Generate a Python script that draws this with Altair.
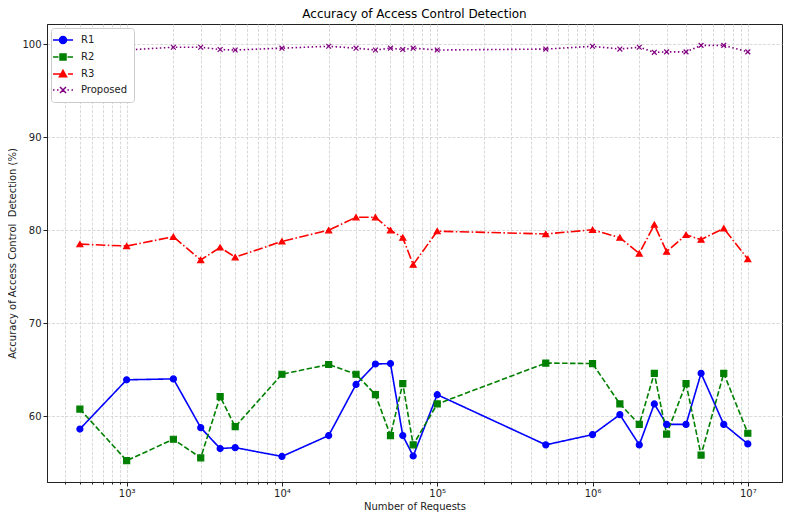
import altair as alt
import pandas as pd

# ---- data ----
requests = [500, 1000, 2000, 3000, 4000, 5000, 10000, 20000, 30000, 40000, 50000,
            60000, 70000, 100000, 500000, 1000000, 1500000, 2000000, 2500000,
            3000000, 4000000, 5000000, 7000000, 10000000]
r1 = [58.6, 63.9, 64.0, 58.75, 56.5, 56.6, 55.65, 57.9, 63.4, 65.6, 65.65, 57.9,
      55.7, 62.3, 56.9, 58.0, 60.15, 56.9, 61.3, 59.1, 59.1, 64.6, 59.1, 57.0]
r2 = [60.75, 55.2, 57.5, 55.5, 62.1, 58.85, 64.5, 65.55, 64.5, 62.3, 57.9, 63.5,
      56.9, 61.3, 65.7, 65.65, 61.3, 59.1, 64.6, 58.05, 63.5, 55.8, 64.6, 58.15]
r3 = [78.5, 78.3, 79.3, 76.8, 78.15, 77.1, 78.8, 80.0, 81.4, 81.4, 80.0, 79.2,
      76.3, 79.9, 79.6, 80.05, 79.2, 77.5, 80.6, 77.7, 79.5, 79.0, 80.2, 76.9]
proposed = [99.5, 99.4, 99.7, 99.7, 99.45, 99.4, 99.6, 99.8, 99.6, 99.4, 99.6, 99.45,
            99.6, 99.4, 99.5, 99.8, 99.5, 99.7, 99.15, 99.2, 99.2, 99.9, 99.9, 99.2]

series_names = ["R1", "R2", "R3", "Proposed"]
series_values = [r1, r2, r3, proposed]
y_ticks = [60, 70, 80, 90, 100]
tick_multipliers = [1, 2, 3, 4, 5, 6, 7, 8, 9]
tick_exponents = [2, 3, 4, 5, 6, 7]

# ---- styles ----
colors = ["#0000ff", "#008000", "#ff0000", "#800080"]
dashes = [[1, 0], [5.5, 2.4], [9.6, 2.4, 1.5, 2.4], [1.5, 2.5]]
marker_shapes = ["circle", "square", "triangle-up",
                 "M-0.8,-0.8L0.8,0.8M-0.8,0.8L0.8,-0.8"]
legend_shapes = [
    "M-2,0H2M0.7,0A0.7,0.7 0 1 1 -0.7,0A0.7,0.7 0 1 1 0.7,0Z",
    "M-2,0H-0.9M-0.4,0H0.4M0.9,0H2M-0.6,-0.6H0.6V0.6H-0.6Z",
    "M-2,0H-0.3M0.2,0H0.5M1.0,0H2M0,-0.75L0.72,0.55H-0.72Z",
    "M-2,0H-1.7M-1.2,0H-0.9M0.9,0H1.2M1.7,0H2M-0.6,-0.6L0.6,0.6M-0.6,0.6L0.6,-0.6",
]

x_domain = [307, 1.66e7]
y_domain = [52.9, 102.2]

rows = []
for name, vals in zip(series_names, series_values):
    for x, v in zip(requests, vals):
        rows.append({"requests": x, "accuracy": v, "series": name})
df = pd.DataFrame(rows)

x_ticks = [m * 10 ** e for e in tick_exponents for m in tick_multipliers
           if x_domain[0] <= m * 10 ** e <= x_domain[1]]

is_major = "abs(log(datum.value)/LN10 - round(log(datum.value)/LN10)) < 0.001"
label_expr = (is_major + " ? '10' + ['⁰','¹','²','³','⁴','⁵','⁶','⁷','⁸','⁹']"
              "[round(log(datum.value)/LN10)] : ''")

x_enc = alt.X(
    "requests:Q",
    scale=alt.Scale(type="log", domain=x_domain, nice=False),
    axis=alt.Axis(values=x_ticks, labelExpr=label_expr,
                  tickSize={"condition": {"test": is_major, "value": 4}, "value": 2},
                  title="Number of Requests", labelPadding=2, titlePadding=3),
)
y_enc = alt.Y(
    "accuracy:Q",
    scale=alt.Scale(domain=y_domain, nice=False, zero=False),
    axis=alt.Axis(values=y_ticks, tickSize=4, labelPadding=2, titlePadding=4,
                  title="Accuracy of Access Control\u00a0 Detection (%)"),
)

lines = alt.Chart(df).mark_line(strokeWidth=1.6).encode(
    x=x_enc, y=y_enc,
    stroke=alt.Stroke("series:N", scale=alt.Scale(domain=series_names, range=colors), legend=None),
    strokeDash=alt.StrokeDash("series:N", scale=alt.Scale(domain=series_names, range=dashes), legend=None),
)

points = alt.Chart(df).mark_point(opacity=1, size=36, strokeWidth=1.2, filled=True).encode(
    x=x_enc, y=y_enc,
    fill=alt.Fill("series:N", scale=alt.Scale(domain=series_names, range=colors), legend=None),
    stroke=alt.Stroke("series:N", scale=alt.Scale(domain=series_names, range=colors), legend=None),
    shape=alt.Shape("series:N", scale=alt.Scale(domain=series_names, range=marker_shapes), legend=None),
)

leg = alt.Legend(title=None)
legend_layer = alt.Chart(df).transform_filter("false").mark_point(
    opacity=1, filled=True, strokeWidth=1.5
).encode(
    fill=alt.Fill("series:N", scale=alt.Scale(domain=series_names, range=colors), legend=leg),
    stroke=alt.Stroke("series:N", scale=alt.Scale(domain=series_names, range=colors), legend=leg),
    shape=alt.Shape("series:N", scale=alt.Scale(domain=series_names, range=legend_shapes), legend=leg),
)

chart = alt.layer(lines, points, legend_layer).resolve_scale(
    fill="independent", stroke="independent", shape="independent", strokeDash="independent"
).properties(
    width=735, height=458,
    autosize=alt.AutoSizeParams(type="none"),
    padding={"left": 39, "top": 16, "right": 3, "bottom": 32},
    title=alt.TitleParams("Accuracy of Access Control Detection", fontSize=12,
                          font="DejaVu Sans", fontWeight="normal", color="#000", offset=3),
).configure_view(
    stroke="#222", strokeWidth=1
).configure_axis(
    domainColor="#222", tickColor="#222", labelColor="#222", titleColor="#222",
    gridColor="#d0d0d0", gridDash=[3, 1.5], gridWidth=0.8,
    labelFont="DejaVu Sans", titleFont="DejaVu Sans", labelFontSize=10,
    titleFontSize=10, titleFontWeight="normal",
).configure_legend(
    orient="top-left", offset=4, padding=6, fillColor="white", strokeColor="#cccccc",
    cornerRadius=3, labelFont="DejaVu Sans", labelFontSize=10, labelColor="#222",
    symbolSize=100, symbolStrokeWidth=1.5, rowPadding=4, labelOffset=12,
)

chart.save("out.html", embed_options={"renderer": "svg", "actions": False})
